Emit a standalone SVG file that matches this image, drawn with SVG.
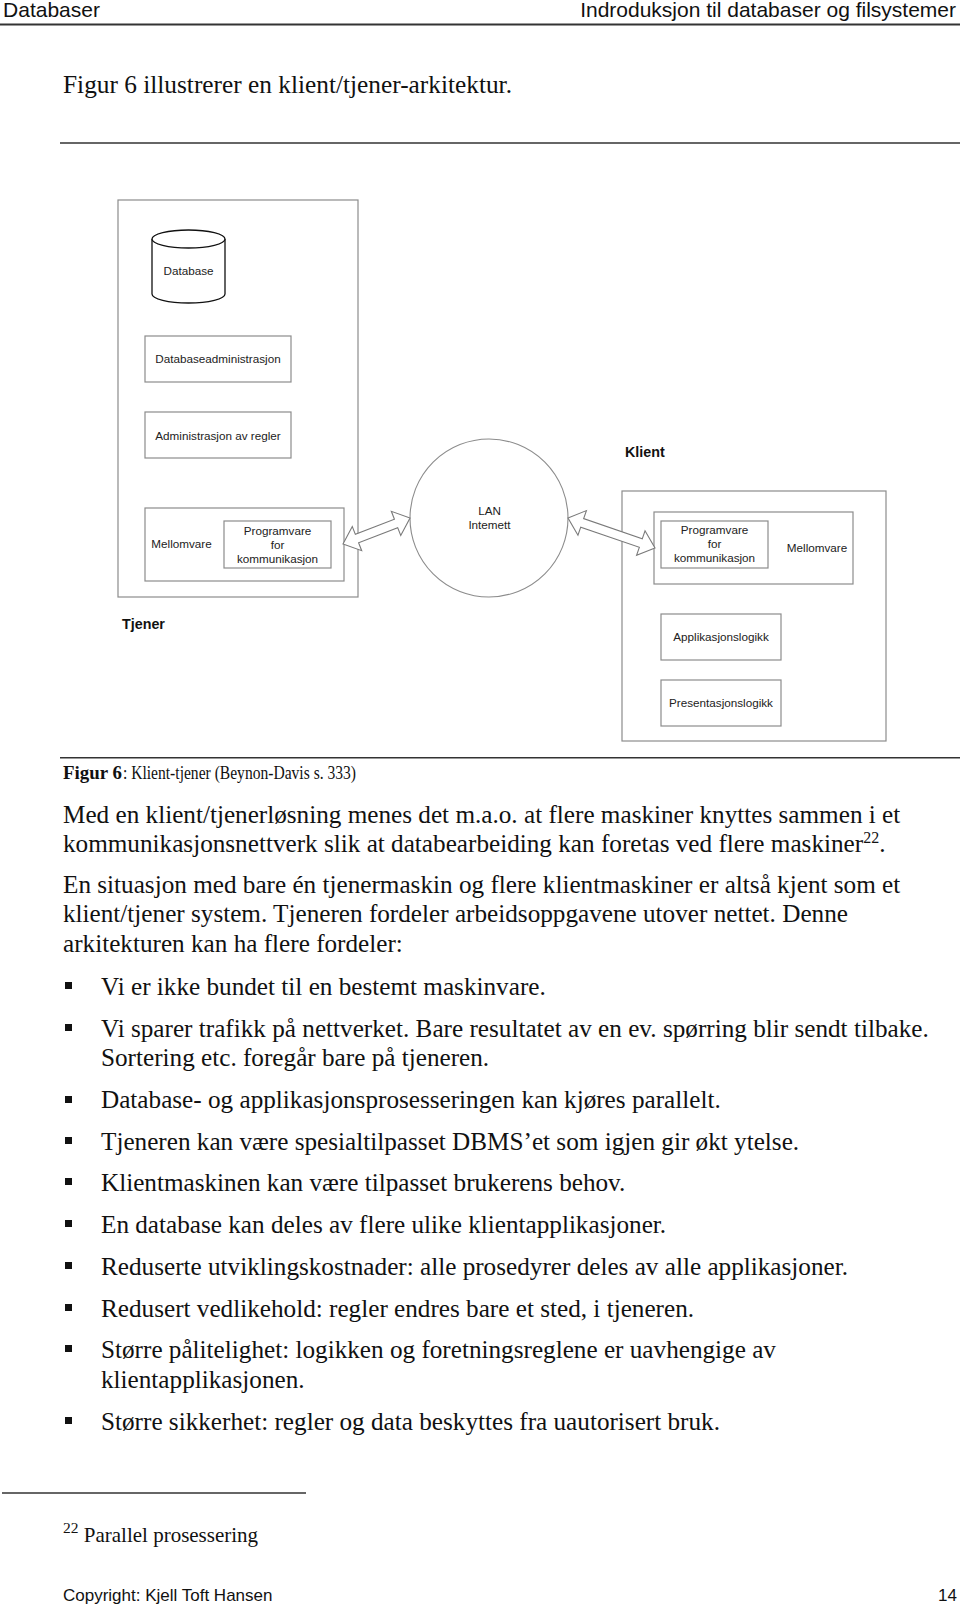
<svg xmlns="http://www.w3.org/2000/svg" width="960" height="1605" viewBox="0 0 960 1605">
<style>
.hdr{font-family:"Liberation Sans",Arial,sans-serif;font-size:21px;fill:#111}
.foot{font-family:"Liberation Sans",Arial,sans-serif;font-size:17px;fill:#111}
.body{font-family:"Liberation Serif","Times New Roman",serif;font-size:25.2px;fill:#111}
.cap{font-family:"Liberation Serif","Times New Roman",serif;font-size:19px;fill:#111}
.capb{font-weight:bold}
.fn{font-family:"Liberation Serif","Times New Roman",serif;font-size:21px;fill:#111}
.sup{font-size:15.5px}
.sup2{font-size:16px}
.dg{font-family:"Liberation Sans",Arial,sans-serif;font-size:11.7px;fill:#222;text-anchor:middle}
.lbl{font-family:"Liberation Sans",Arial,sans-serif;font-size:14.3px;font-weight:bold;fill:#111}
.box{fill:none;stroke:#8c8c8c;stroke-width:1.2}
.rule{stroke:#333;fill:none}
.arrow{fill:#fff;stroke:#7a7a7a;stroke-width:1.1;stroke-linejoin:miter}
.bul{fill:#111}
</style>
<rect width="960" height="1605" fill="#fff"/>

<!-- page header -->
<text class="hdr" x="3" y="17" textLength="97" lengthAdjust="spacingAndGlyphs">Databaser</text>
<text class="hdr" x="956" y="17" text-anchor="end">Indroduksjon til databaser og filsystemer</text>
<line class="rule" x1="0" y1="24.5" x2="960" y2="24.5" stroke-width="2.2"/>

<text class="body" x="63" y="93" textLength="449" lengthAdjust="spacingAndGlyphs">Figur 6 illustrerer en klient/tjener-arkitektur.</text>
<line class="rule" x1="60" y1="143" x2="960" y2="143" stroke-width="1.5"/>

<!-- diagram -->
<g id="tjener">
  <rect class="box" x="118" y="200" width="240" height="397"/>
  <text class="lbl" x="122" y="629">Tjener</text>
</g>
<g id="database">
  <path d="M152,239 L152,294 A36.5,9 0 0 0 225,294 L225,239" fill="#fff" stroke="#111" stroke-width="1.3"/>
  <ellipse cx="188.5" cy="239" rx="36.5" ry="9" fill="#fff" stroke="#111" stroke-width="1.3"/>
  <text class="dg" x="188.5" y="275">Database</text>
</g>
<g id="databaseadministrasjon">
  <rect class="box" x="145" y="336" width="146" height="46"/>
  <text class="dg" x="218" y="363">Databaseadministrasjon</text>
</g>
<g id="administrasjon-av-regler">
  <rect class="box" x="145" y="412" width="146" height="46"/>
  <text class="dg" x="218" y="440">Administrasjon av regler</text>
</g>
<g id="mellomvare-tjener">
  <rect class="box" x="145" y="508" width="199" height="73"/>
  <text class="dg" x="181.5" y="548">Mellomvare</text>
</g>
<g id="programvare-tjener">
  <rect class="box" x="224" y="521" width="107" height="47"/>
  <text class="dg" x="277.5" y="535">Programvare</text>
  <text class="dg" x="277.5" y="549">for</text>
  <text class="dg" x="277.5" y="563">kommunikasjon</text>
</g>
<g id="nettverk">
  <circle cx="489" cy="518" r="79" fill="none" stroke="#8c8c8c" stroke-width="1.1"/>
  <text class="dg" x="489.5" y="515">LAN</text>
  <text class="dg" x="489.5" y="529">Intemett</text>
</g>
<g id="klient">
  <rect class="box" x="622" y="491" width="264" height="250"/>
  <text class="lbl" x="625" y="457">Klient</text>
</g>
<g id="mellomvare-klient">
  <rect class="box" x="654" y="512" width="199" height="72"/>
  <text class="dg" x="817" y="552">Mellomvare</text>
</g>
<g id="programvare-klient">
  <rect class="box" x="661" y="521" width="107" height="47"/>
  <text class="dg" x="714.5" y="534">Programvare</text>
  <text class="dg" x="714.5" y="548">for</text>
  <text class="dg" x="714.5" y="562">kommunikasjon</text>
</g>
<g id="applikasjonslogikk">
  <rect class="box" x="661" y="614" width="120" height="46"/>
  <text class="dg" x="721" y="641">Applikasjonslogikk</text>
</g>
<g id="presentasjonslogikk">
  <rect class="box" x="661" y="680" width="120" height="46"/>
  <text class="dg" x="721" y="707">Presentasjonslogikk</text>
</g>

<g id="connectors">
  <polygon class="arrow" transform="translate(343,544) rotate(-21.2)" points="0,0 15,-13 15,-4.5 56.9,-4.5 56.9,-13 71.9,0 56.9,13 56.9,4.5 15,4.5 15,13"/>
  <polygon class="arrow" transform="translate(568,518) rotate(19)" points="0,0 15,-13 15,-4.5 77,-4.5 77,-13 92,0 77,13 77,4.5 15,4.5 15,13"/>
</g>

<line class="rule" x1="60" y1="757.7" x2="960" y2="757.7" stroke-width="1.5"/>
<text class="cap capb" x="63" y="779" textLength="59" lengthAdjust="spacingAndGlyphs">Figur 6</text>
<text class="cap" x="123" y="779" textLength="233" lengthAdjust="spacingAndGlyphs">: Klient-tjener (Beynon-Davis s. 333)</text>

<text class="body" x="63" y="823">Med en klient/tjenerløsning menes det m.a.o. at flere maskiner knyttes sammen i et</text>
<text class="body" x="63" y="852">kommunikasjonsnettverk slik at databearbeiding kan foretas ved flere maskiner<tspan class="sup2" dy="-9">22</tspan><tspan dy="9">.</tspan></text>
<text class="body" x="63" y="893">En situasjon med bare én tjenermaskin og flere klientmaskiner er altså kjent som et</text>
<text class="body" x="63" y="922">klient/tjener system. Tjeneren fordeler arbeidsoppgavene utover nettet. Denne</text>
<text class="body" x="63" y="952">arkitekturen kan ha flere fordeler:</text>

<g class="bul">
  <rect x="65" y="982" width="7" height="7"/>
  <rect x="65" y="1024" width="7" height="7"/>
  <rect x="65" y="1096" width="7" height="7"/>
  <rect x="65" y="1137" width="7" height="7"/>
  <rect x="65" y="1178" width="7" height="7"/>
  <rect x="65" y="1220" width="7" height="7"/>
  <rect x="65" y="1262" width="7" height="7"/>
  <rect x="65" y="1304" width="7" height="7"/>
  <rect x="65" y="1345" width="7" height="7"/>
  <rect x="65" y="1417" width="7" height="7"/>
</g>
<text class="body" x="101" y="995">Vi er ikke bundet til en bestemt maskinvare.</text>
<text class="body" x="101" y="1037">Vi sparer trafikk på nettverket. Bare resultatet av en ev. spørring blir sendt tilbake.</text>
<text class="body" x="101" y="1066">Sortering etc. foregår bare på tjeneren.</text>
<text class="body" x="101" y="1108">Database- og applikasjonsprosesseringen kan kjøres parallelt.</text>
<text class="body" x="101" y="1150">Tjeneren kan være spesialtilpasset DBMS’et som igjen gir økt ytelse.</text>
<text class="body" x="101" y="1191">Klientmaskinen kan være tilpasset brukerens behov.</text>
<text class="body" x="101" y="1233">En database kan deles av flere ulike klientapplikasjoner.</text>
<text class="body" x="101" y="1275">Reduserte utviklingskostnader: alle prosedyrer deles av alle applikasjoner.</text>
<text class="body" x="101" y="1317">Redusert vedlikehold: regler endres bare et sted, i tjeneren.</text>
<text class="body" x="101" y="1358">Større pålitelighet: logikken og foretningsreglene er uavhengige av</text>
<text class="body" x="101" y="1388">klientapplikasjonen.</text>
<text class="body" x="101" y="1430">Større sikkerhet: regler og data beskyttes fra uautorisert bruk.</text>

<line class="rule" x1="2" y1="1493" x2="306" y2="1493" stroke-width="1.5"/>
<text class="fn" x="63" y="1542"><tspan class="sup" dy="-9">22</tspan><tspan dy="9"> Parallel prosessering</tspan></text>

<text class="foot" x="63" y="1601">Copyright: Kjell Toft Hansen</text>
<text class="foot" x="957" y="1601" text-anchor="end">14</text>
</svg>
